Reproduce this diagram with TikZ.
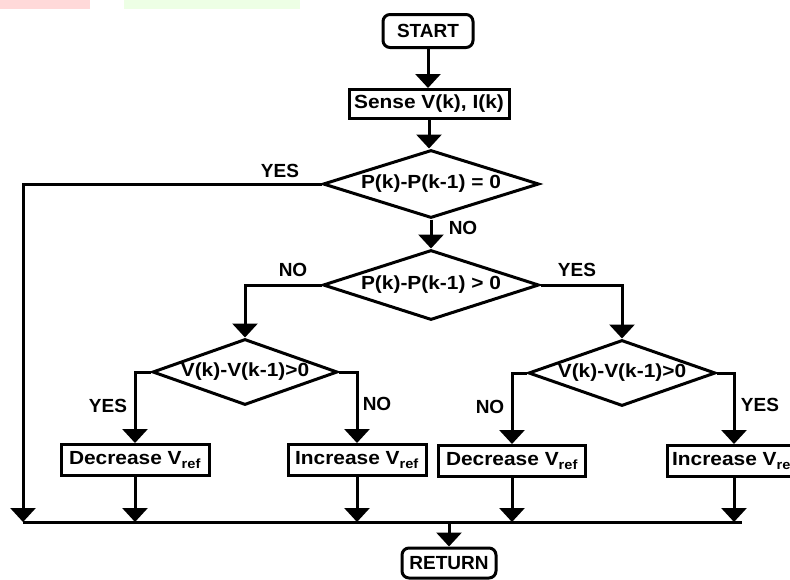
\documentclass[tikz,border=0pt]{standalone}
\usepackage{fontspec}
\setmainfont{Liberation Sans}
\usetikzlibrary{arrows.meta,shapes.geometric}
\newcommand{\hstr}[1]{\scalebox{1.1}[1]{#1}}
\begin{document}
\begin{tikzpicture}[x=1pt,y=-1pt,
  every node/.style={font=\bfseries\fontsize{19}{22}\selectfont},
  line/.style={line width=3pt},
  flow/.style={line width=3pt,-{Triangle[width=25pt,length=14pt]}},
  boxnode/.style={draw,line width=3pt,inner sep=0pt,minimum height=31pt},
  term/.style={boxnode,rounded corners=7pt,minimum height=33pt},
  dia/.style={draw,diamond,line width=3pt,inner sep=0pt,aspect=3},
  lbl/.style={inner sep=0pt}]
\useasboundingbox (0,0) rectangle (790,579);
\fill[red!15] (0,0) rectangle (90,9);
\fill[green!60!lime!10] (124,0) rectangle (300,9);

\node[term,minimum width=90pt] (start) at (428,31) {START};
\node[boxnode,minimum width=160pt,minimum height=29pt] (sense) at (429,104) {\hstr{Sense V(k), I(k)}};
\node[dia,minimum width=216pt,minimum height=68pt] (d1) at (431,184) {\hstr{P(k)-P(k-1) = 0}};
\node[dia,minimum width=216pt,minimum height=70pt] (d2) at (431,285) {\hstr{P(k)-P(k-1) > 0}};
\node[dia,minimum width=185pt,minimum height=66pt] (d3) at (245,372) {\hstr{V(k)-V(k-1)>0}};
\node[dia,minimum width=187pt,minimum height=66pt] (d4) at (622,373) {\hstr{V(k)-V(k-1)>0}};
\node[boxnode,minimum width=148pt] (dec1) at (135,460) {\hstr{Decrease V\textsubscript{ref}}};
\node[boxnode,minimum width=138pt] (inc1) at (357,460) {\hstr{Increase V\textsubscript{ref}}};
\node[boxnode,minimum width=147pt] (dec2) at (512,461) {\hstr{Decrease V\textsubscript{ref}}};
\node[boxnode,minimum width=134pt] (inc2) at (734,461) {\hstr{Increase V\textsubscript{ref}}};
\node[term,minimum width=94pt,minimum height=30pt] (ret) at (449,563) {RETURN};

\coordinate (bl) at (23,522);
\coordinate (br) at (742,522);

\node[lbl] (y1) at (280,171) {YES};
\node[lbl] (n1) at (463,228) {NO};
\node[lbl] (n2) at (293,270) {NO};
\node[lbl] (y2) at (577,270) {YES};
\node[lbl] (y3) at (108,406) {YES};
\node[lbl] (n3) at (377,404) {NO};
\node[lbl] (n4) at (490,407) {NO};
\node[lbl] (y4) at (760,405) {YES};

\draw[flow] (start.south) -- (start.south |- sense.north);
\draw[flow] (sense.south) -- (sense.south |- d1.north);
\draw[flow] (d1.west) -| (bl);
\draw[line] (bl) -- (br);
\draw[flow] (d1.south) -- (d2.north);
\draw[flow] (d2.west) -| (d3.north);
\draw[flow] (d2.east) -| (d4.north);
\draw[flow] (d3.west) -| (dec1.north);
\draw[flow] (d3.east) -| (inc1.north);
\draw[flow] (d4.west) -| (dec2.north);
\draw[flow] (d4.east) -| (inc2.north);
\draw[flow] (dec1.south) -- (dec1.south |- bl);
\draw[flow] (inc1.south) -- (inc1.south |- bl);
\draw[flow] (dec2.south) -- (dec2.south |- bl);
\draw[flow] (inc2.south) -- (inc2.south |- bl);
\draw[flow] (ret.north |- bl) -- (ret.north);
\end{tikzpicture}
\end{document}
